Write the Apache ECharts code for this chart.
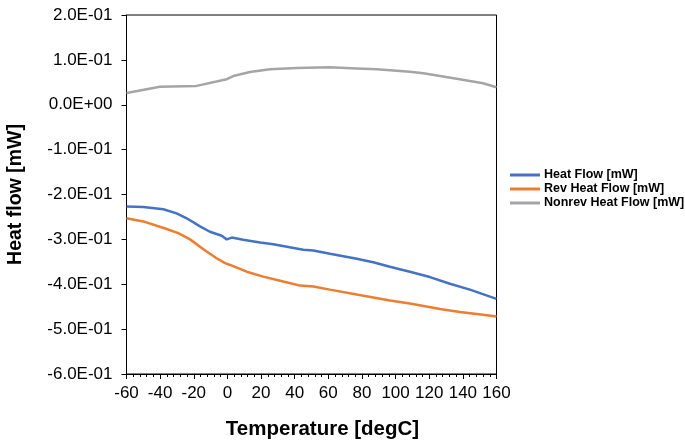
<!DOCTYPE html>
<html>
<head>
<meta charset="utf-8">
<script src="https://cdn.jsdelivr.net/npm/echarts@6/dist/echarts.min.js"></script>
<style>html,body{margin:0;padding:0;background:#fff;}#c{width:685px;height:447px;}</style>
</head>
<body>
<div id="c"></div>
<script>
var seriesNames = ['Heat Flow [mW]', 'Rev Heat Flow [mW]', 'Nonrev Heat Flow [mW]'];
var heatT = [-60, -50, -38.1, -30.2, -24.2, -16.3, -10.4, -3.4, -0.4, 2.6, 9.4, 19.4, 27.3, 45.1, 51.1, 61, 76.9, 86.7, 96.6, 108.5, 120.4, 132.3, 144.2, 160];
var heatV = [-0.227, -0.2277, -0.233, -0.242, -0.253, -0.271, -0.283, -0.292, -0.300, -0.296, -0.301, -0.307, -0.311, -0.323, -0.325, -0.332, -0.343, -0.351, -0.361, -0.372, -0.384, -0.399, -0.412, -0.4325];
var revT = [-60, -50, -36.1, -29.2, -22.2, -14.3, -6.4, -1.4, 1.6, 11.5, 21.3, 33.2, 43.2, 51.1, 61, 76.9, 96.6, 108.5, 126.4, 138.2, 152, 160];
var revV = [-0.253, -0.260, -0.277, -0.286, -0.300, -0.322, -0.342, -0.353, -0.357, -0.372, -0.383, -0.394, -0.403, -0.405, -0.412, -0.423, -0.436, -0.443, -0.455, -0.462, -0.468, -0.472];
var nonrevT = [-60, -40.1, -18.3, -0.4, 3.5, 13.4, 25.3, 41.2, 61, 76.9, 88.8, 108.5, 116.5, 136.3, 152, 160];
var nonrevV = [0.026, 0.040, 0.042, 0.057, 0.064, 0.073, 0.079, 0.082, 0.0835, 0.081, 0.079, 0.0737, 0.070, 0.058, 0.048, 0.039];
var colors = ['#4472C4', '#ED7D31', '#A5A5A5'];

function pair(xs, ys) { return xs.map(function (x, i) { return [x, ys[i]]; }); }
function sci(v) {
  if (Math.abs(v) < 1e-9) return '0.0E+00';
  var s = v.toExponential(1);
  var m = s.split('e');
  var e = parseInt(m[1], 10);
  var sign = e < 0 ? '-' : '+';
  var a = Math.abs(e);
  return m[0] + 'E' + sign + (a < 10 ? '0' + a : '' + a);
}

var chart = echarts.init(document.getElementById('c'));
var font = 'Liberation Sans, Arial, sans-serif';
chart.setOption({
  animation: false,
  backgroundColor: '#fff',
  textStyle: { fontFamily: font },
  grid: { left: 126.5, right: 188.5, top: 15, bottom: 73, containLabel: false, outerBoundsMode: 'none', show: true, borderColor: '#000', borderWidth: 1, backgroundColor: 'transparent' },
  legend: {
    orient: 'vertical',
    left: 505, top: 163,
    itemWidth: 30, itemHeight: 3, itemGap: 0,
    icon: 'rect',
    textStyle: { fontFamily: font, fontSize: 12.5, fontWeight: 'bold', color: '#000', lineHeight: 14, padding: [0, 0, 0, -1] },
    data: seriesNames
  },
  xAxis: {
    type: 'value', min: -60, max: 160, interval: 20,
    name: 'Temperature [degC]', nameLocation: 'middle', nameGap: 45,
    nameTextStyle: { fontFamily: font, fontSize: 20.5, fontWeight: 'bold', color: '#000', padding: [0, 0, 0, 22] },
    axisLine: { onZero: false, lineStyle: { color: '#000', width: 1 } },
    axisTick: { show: true, length: 5, lineStyle: { color: '#000' } },
    minorTick: { show: true, splitNumber: 5, length: 3, lineStyle: { color: '#000' } },
    axisLabel: { fontFamily: font, fontSize: 17, color: '#000', margin: 11 },
    splitLine: { show: false }
  },
  yAxis: {
    type: 'value', min: -0.6, max: 0.2, interval: 0.1,
    name: 'Heat flow [mW]', nameLocation: 'middle', nameGap: 101,
    nameTextStyle: { fontFamily: font, fontSize: 19.5, fontWeight: 'bold', color: '#000' },
    axisLine: { show: true, onZero: false, lineStyle: { color: '#000', width: 1 } },
    axisTick: { show: true, length: 5, lineStyle: { color: '#000' } },
    axisLabel: { fontFamily: font, fontSize: 17, color: '#000', margin: 14, formatter: sci },
    splitLine: { show: false }
  },
  series: [
    { name: seriesNames[0], type: 'line', data: pair(heatT, heatV), showSymbol: false, symbol: 'none', lineStyle: { color: colors[0], width: 2.5 }, itemStyle: { color: colors[0] } },
    { name: seriesNames[1], type: 'line', data: pair(revT, revV), showSymbol: false, symbol: 'none', lineStyle: { color: colors[1], width: 2.5 }, itemStyle: { color: colors[1] } },
    { name: seriesNames[2], type: 'line', data: pair(nonrevT, nonrevV), showSymbol: false, symbol: 'none', lineStyle: { color: colors[2], width: 2.5 }, itemStyle: { color: colors[2] } }
  ]
});
</script>
</body>
</html>
